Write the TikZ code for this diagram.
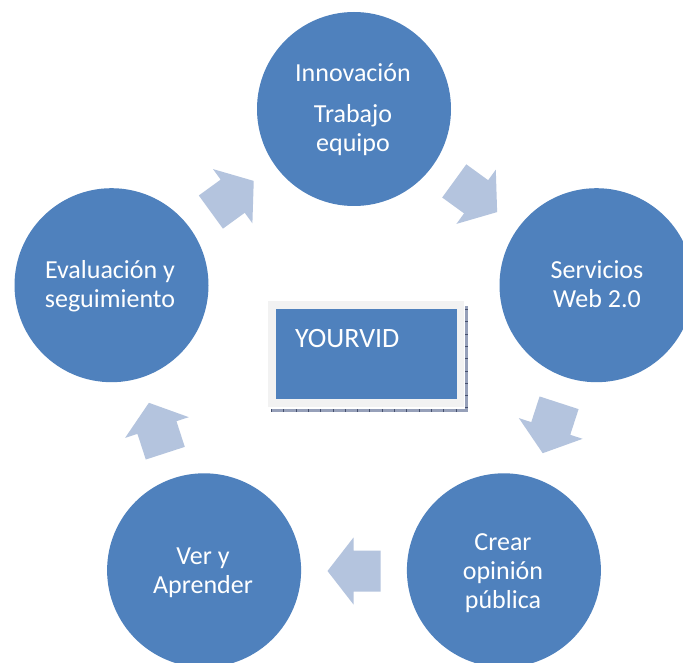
\documentclass[tikz,border=0pt]{standalone}
\usepackage{fontspec}
\setmainfont{Carlito}
\definecolor{cblue}{RGB}{79,129,189}
\definecolor{arrowc}{RGB}{180,196,222}
\definecolor{framec}{RGB}{242,242,242}
\definecolor{shadc}{RGB}{150,160,185}
\definecolor{tickc}{RGB}{70,80,110}
\newcommand\myblockarrow[3]{%
  \fill[arrowc, shift={(#1,#2)}, rotate=#3]
    (-26.5,-20.5) -- (0.5,-20.5) -- (0.5,-33.5) -- (26.5,0)
    -- (0.5,33.5) -- (0.5,20.5) -- (-26.5,20.5) -- cycle;}
\begin{document}
\begin{tikzpicture}[x=1pt,y=-1pt,
  bubble/.style={circle, fill=cblue, inner sep=0pt, minimum size=194pt},
  ctext/.style={anchor=base, inner sep=0pt, text=white, font=\fontsize{26}{29}\selectfont},
  framebox/.style={fill=framec, inner sep=0pt, minimum width=196pt, minimum height=106pt},
  bluebox/.style={fill=cblue, inner sep=0pt, minimum width=181pt, minimum height=90pt}]
\useasboundingbox (0,0) rectangle (683,663);
\clip (0,0) rectangle (683,663);
\fill[white] (0,0) rectangle (683,663);
% circles
\node[bubble] (top) at (354,109) {};
\node[bubble] (right) at (596.5,285.2) {};
\node[bubble] (bright) at (503.9,570.3) {};
\node[bubble] (bleft) at (204.1,570.3) {};
\node[bubble] (left) at (111.5,285.2) {};
% texts
\node[ctext] (t1a) at (353,82) {Innovación};
\node[ctext] (t1b) at (353,123) {Trabajo};
\node[ctext] (t1c) at (353,152) {equipo};
\node[ctext] (t2a) at (597,279) {Servicios};
\node[ctext] (t2b) at (597,307) {Web 2.0};
\node[ctext] (t3a) at (503,550) {Crear};
\node[ctext] (t3b) at (503,579) {opinión};
\node[ctext] (t3c) at (503,608) {pública};
\node[ctext] (t4a) at (203,564) {Ver y};
\node[ctext] (t4b) at (203,593) {Aprender};
\node[ctext] (t5a) at (110,279) {Evaluación y};
\node[ctext] (t5b) at (110,308) {seguimiento};
% arrows
\myblockarrow{232.3}{196.5}{36}
\myblockarrow{475.7}{196.5}{-36}
\myblockarrow{550.9}{428.0}{-108}
\myblockarrow{354}{571}{180}
\myblockarrow{157.1}{428.0}{108}
% center box
\draw[shadc, line width=3pt] (271,410) -- (466,410) -- (466,306);
\draw[tickc, line width=3pt, dash pattern=on 0.8pt off 11.5pt] (271,410) -- (466,410) -- (466,306);
\node[framebox] (frame) at (366,354) {};
\node[bluebox] (box) at (366.3,354) {};
\node[anchor=base west, inner sep=0pt, text=white, font=\fontsize{28}{32}\selectfont] (yv) at (295,347) {YOURVID};
\end{tikzpicture}
\end{document}
